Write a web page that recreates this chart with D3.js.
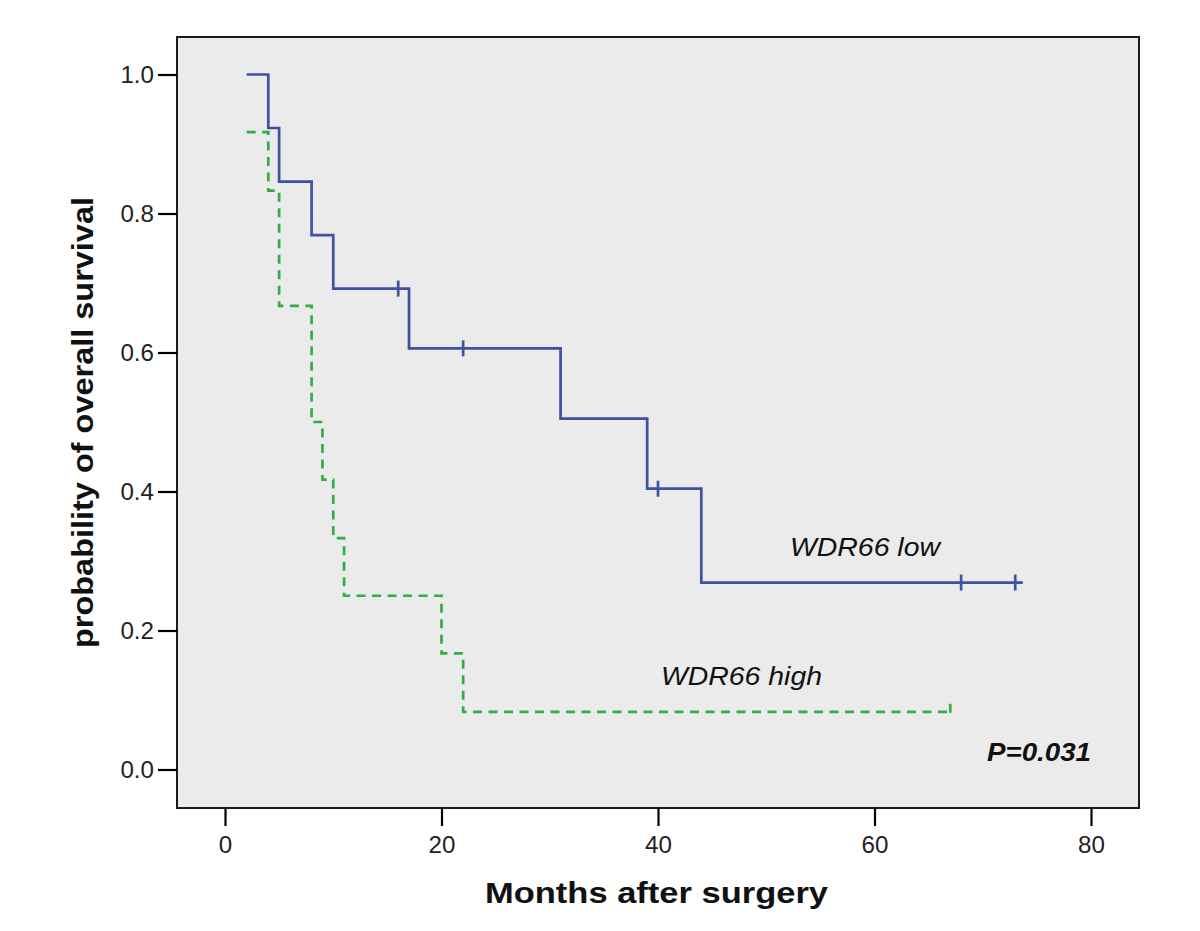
<!DOCTYPE html>
<html>
<head>
<meta charset="utf-8">
<script src="https://cdn.jsdelivr.net/npm/d3@7"></script>
<style>
  html, body { margin: 0; padding: 0; background: #ffffff; }
  svg { display: block; }
  text { font-family: "Liberation Sans", Arial, sans-serif; }
</style>
</head>
<body>
<svg id="chart" width="1200" height="931"></svg>
<script>
// ---- data ----
const xTicks = [0, 20, 40, 60, 80];
const yTicks = [0.0, 0.2, 0.4, 0.6, 0.8, 1.0];

// WDR66 low: step times and survival after each time
const lowTimes = [2, 4, 5, 8, 10, 17, 31, 39, 44, 73.7];
const lowSurv  = [1.0, 0.923, 0.846, 0.769, 0.692, 0.606, 0.505, 0.404, 0.269, 0.269];
const lowCensorTimes = [16, 22, 40, 68, 73];
const lowCensorSurv  = [0.692, 0.606, 0.404, 0.269, 0.269];

// WDR66 high
const highTimes = [2, 4, 5, 8, 9, 10, 11, 20, 22, 67];
const highSurv  = [0.917, 0.833, 0.667, 0.5, 0.417, 0.333, 0.25, 0.167, 0.083, 0.083];
const highCensorTimes = [67];
const highCensorSurv  = [0.083];

const labelLow = "WDR66 low";
const labelHigh = "WDR66 high";
const pText = "P=0.031";
const xTitle = "Months after surgery";
const yTitle = "probability of overall survival";

// ---- layout ----
const svg = d3.select("#chart");
const frame = { left: 177, top: 37, right: 1139, bottom: 808 };
const x = d3.scaleLinear().domain([0, 80]).range([225, 1091]);
const y = d3.scaleLinear().domain([0, 1]).range([769.5, 74.5]);

const blue = "#3d52a3";
const green = "#35ad45";
const sx = 1.05;

// plot background + frame
svg.append("rect")
  .attr("x", frame.left).attr("y", frame.top)
  .attr("width", frame.right - frame.left).attr("height", frame.bottom - frame.top)
  .attr("fill", "#ebebeb").attr("stroke", "#1a1a1a").attr("stroke-width", 2);

// axes
const xAxis = d3.axisBottom(x).tickValues(xTicks).tickSize(18).tickPadding(8)
  .tickFormat(d3.format("d"));
const gx = svg.append("g").attr("transform", `translate(0,${frame.bottom})`).call(xAxis);
gx.select(".domain").remove();
gx.selectAll(".tick line").attr("stroke", "#000").attr("stroke-width", 2.2);
gx.selectAll(".tick text").attr("font-size", 23).attr("fill", "#222")
  .attr("font-family", "Liberation Sans, Arial, sans-serif")
  .attr("dy", null).attr("y", 45.5).attr("x", 0)
  .attr("transform", `scale(${sx},1)`);

const yAxis = d3.axisLeft(y).tickValues(yTicks).tickSize(19).tickPadding(4)
  .tickFormat(d3.format(".1f"));
const gy = svg.append("g").attr("transform", `translate(${frame.left},0)`).call(yAxis);
gy.select(".domain").remove();
gy.selectAll(".tick line").attr("stroke", "#000").attr("stroke-width", 2.2);
gy.selectAll(".tick text").attr("font-size", 23).attr("fill", "#222")
  .attr("font-family", "Liberation Sans, Arial, sans-serif")
  .attr("dy", null).attr("x", -23 / sx).attr("y", 8.3)
  .attr("transform", `scale(${sx},1)`);

// survival curves
const line = d3.line().x(d => x(d[0])).y(d => y(d[1])).curve(d3.curveStepAfter);
const lowData = lowTimes.map((t, i) => [t, lowSurv[i]]);
const highData = highTimes.map((t, i) => [t, highSurv[i]]);

svg.append("path").datum(highData).attr("d", line)
  .attr("fill", "none").attr("stroke", green).attr("stroke-width", 2.7)
  .attr("stroke-dasharray", "9,6.5");
svg.append("g").selectAll("line").data(highCensorTimes.map((t, i) => [t, highCensorSurv[i]]))
  .join("line")
  .attr("x1", d => x(d[0])).attr("x2", d => x(d[0]))
  .attr("y1", d => y(d[1]) - 8).attr("y2", d => y(d[1]) + 8)
  .attr("stroke", green).attr("stroke-width", 2.7).attr("stroke-dasharray", "9,8");

svg.append("path").datum(lowData).attr("d", line)
  .attr("fill", "none").attr("stroke", blue).attr("stroke-width", 2.7);
svg.append("g").selectAll("line").data(lowCensorTimes.map((t, i) => [t, lowCensorSurv[i]]))
  .join("line")
  .attr("x1", d => x(d[0])).attr("x2", d => x(d[0]))
  .attr("y1", d => y(d[1]) - 8).attr("y2", d => y(d[1]) + 8)
  .attr("stroke", blue).attr("stroke-width", 2.7);

// annotations
svg.append("text").attr("x", 790).attr("y", 556)
  .attr("font-size", 26).attr("font-style", "italic").attr("fill", "#111")
  .attr("textLength", 150).attr("lengthAdjust", "spacingAndGlyphs")
  .text(labelLow);
svg.append("text").attr("x", 661).attr("y", 685)
  .attr("font-size", 26).attr("font-style", "italic").attr("fill", "#111")
  .attr("textLength", 161).attr("lengthAdjust", "spacingAndGlyphs")
  .text(labelHigh);
svg.append("text").attr("x", 987).attr("y", 761)
  .attr("font-size", 25).attr("font-style", "italic").attr("font-weight", "bold").attr("fill", "#111")
  .attr("textLength", 104).attr("lengthAdjust", "spacingAndGlyphs")
  .text(pText);

// axis titles
svg.append("text").attr("x", 485).attr("y", 903)
  .attr("font-size", 30).attr("font-weight", "bold").attr("fill", "#111")
  .attr("textLength", 343).attr("lengthAdjust", "spacingAndGlyphs")
  .text(xTitle);
svg.append("text").attr("transform", "translate(93,648) rotate(-90)")
  .attr("font-size", 30).attr("font-weight", "bold").attr("fill", "#111")
  .attr("textLength", 451).attr("lengthAdjust", "spacingAndGlyphs")
  .text(yTitle);
</script>
</body>
</html>
